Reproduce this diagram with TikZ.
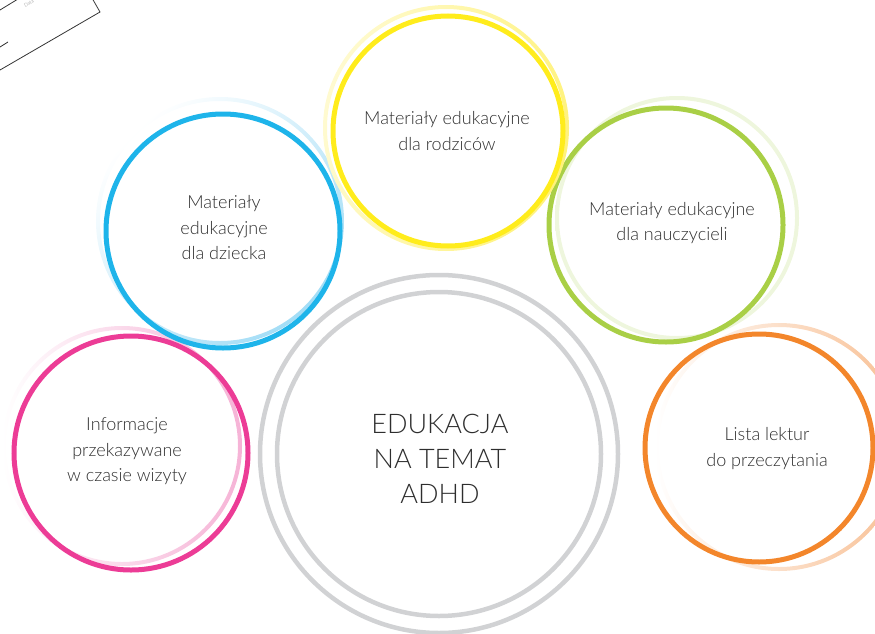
\documentclass[tikz,border=0pt]{standalone}
\usepackage{fontspec}
\setmainfont{Lato}[UprightFont=* Light]
\definecolor{blueC}{HTML}{1EB4EA}
\definecolor{blueL}{HTML}{A3DDF6}
\definecolor{yellowC}{HTML}{FFEC1C}
\definecolor{yellowL}{HTML}{FFF27A}
\definecolor{greenC}{HTML}{A9CF46}
\definecolor{greenL}{HTML}{BBDA78}
\definecolor{orangeC}{HTML}{F3862B}
\definecolor{orangeL}{HTML}{F8BF93}
\definecolor{pinkC}{HTML}{EC3C96}
\definecolor{pinkL}{HTML}{F6B3D6}
\definecolor{ringgray}{HTML}{D1D2D4}
\definecolor{txtgray}{HTML}{2E2E2E}
\definecolor{papergray}{HTML}{333333}

\begin{document}
\begin{tikzpicture}[x=1pt,y=-1pt,
    ring/.style={line width=5pt},
    halo/.style={even odd rule},
    grayring/.style={draw=ringgray,line width=4.5pt},
    paper/.style={draw=papergray,line width=0.8pt},
    txt/.style={text=txtgray,align=center,inner sep=0pt,font=\fontsize{18}{25.5}\selectfont},
    bigtxt/.style={txt,font=\fontsize{27}{35}\selectfont}]
  \useasboundingbox (0,0) rectangle (875,634);
  \clip (0,0) rectangle (875,634);
  % kartka w rogu
  \draw[paper] (0,70)--(100,12)--(92,-2);
  \draw[paper] (0,10)--(18,-1);
  \draw[paper] (0,47)--(8,42);
  \node[rotate=30,text=gray,font=\fontsize{5}{5}\selectfont] (data) at (29,3) {Data};
  % srodek
  \draw[grayring] (439,454) circle[radius=179pt];
  \draw[grayring] (439,454) circle[radius=162pt];
  \node[bigtxt] (adhd) at (440,459) {EDUKACJA\\NA TEMAT\\ADHD};
  % wizyta
  \shade[halo,left color=white,right color=pinkL,shading angle=90]
    (122,446) circle[radius=120pt] circle[radius=116pt];
  \draw[ring,pinkC] (131,453) circle[radius=117pt];
  \node[txt] (wizyta) at (127,451.5) {Informacje\\przekazywane\\w czasie wizyty};
  % dziecko
  \shade[halo,left color=white,right color=blueL,shading angle=45]
    (220,221) circle[radius=124pt] circle[radius=120pt];
  \draw[ring,blueC] (223,231) circle[radius=117pt];
  \node[txt] (dziecko) at (224,228) {Materiały\\edukacyjne\\dla dziecka};
  % nauczyciele
  \shade[halo,top color=greenL!25!white,middle color=greenL,bottom color=greenL!25!white,shading angle=0]
    (677,218) circle[radius=122pt] circle[radius=118pt];
  \draw[ring,greenC] (666,225) circle[radius=117pt];
  \node[txt] (nauczyciele) at (672,223) {Materiały edukacyjne\\dla nauczycieli};
  % lektury
  \shade[halo,left color=white,right color=orangeL,shading angle=90]
    (779,447) circle[radius=124pt] circle[radius=120pt];
  \draw[ring,orangeC] (759,448) circle[radius=114pt];
  \node[txt] (lektury) at (767,448.5) {Lista lektur\\do przeczytania};
  % rodzice
  \shade[halo,left color=yellowL!35!white,right color=yellowL,shading angle=75]
    (446,128) circle[radius=123pt] circle[radius=119pt];
  \draw[ring,yellowC] (448,131) circle[radius=115pt];
  \node[txt] (rodzice) at (447,131) {Materiały edukacyjne\\dla rodziców};
\end{tikzpicture}
\end{document}
